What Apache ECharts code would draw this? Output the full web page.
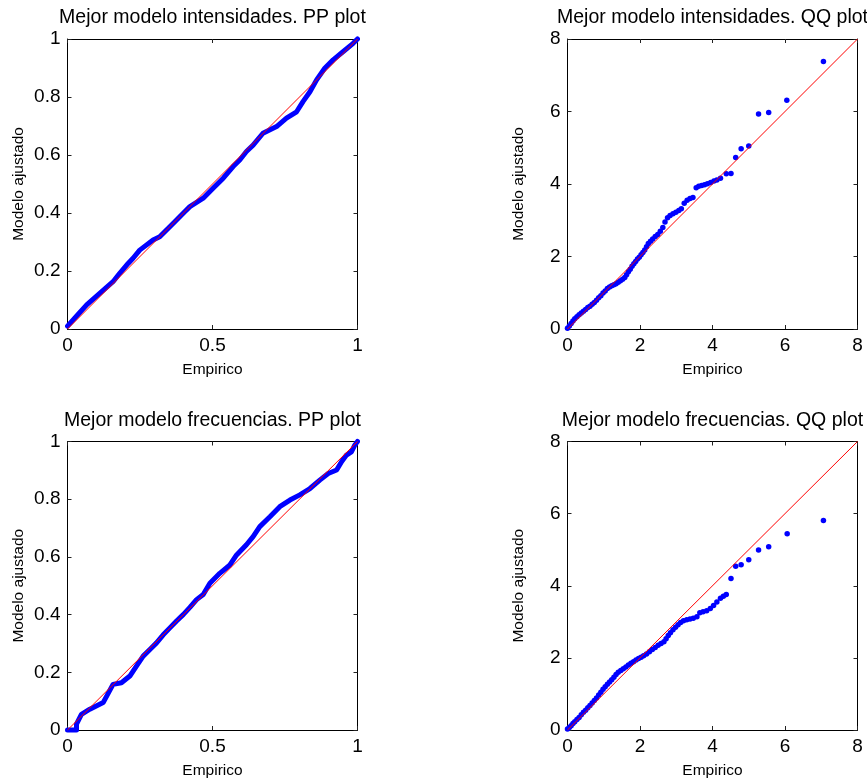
<!DOCTYPE html>
<html>
<head>
<meta charset="utf-8">
<script src="https://cdn.jsdelivr.net/npm/echarts@6/dist/echarts.min.js"></script>
<style>
html,body{margin:0;padding:0;background:#fff;}
#chart{width:867px;height:780px;}
</style>
</head>
<body>
<div id="chart"></div>
<script>
// ---------- Data ----------
const titles = [
  'Mejor modelo intensidades. PP plot',
  'Mejor modelo intensidades. QQ plot',
  'Mejor modelo frecuencias. PP plot',
  'Mejor modelo frecuencias. QQ plot'
];
const xAxisName = 'Empirico';
const yAxisName = 'Modelo ajustado';

const ppTicksX = [0, 0.5, 1];
const ppTicksY = [0, 0.2, 0.4, 0.6, 0.8, 1];
const qqTicks = [0, 2, 4, 6, 8];

// Intensidades PP plot
const ppIntX = [0,0.03,0.066,0.111,0.157,0.18,0.209,0.226,0.249,0.295,0.318,0.364,0.405,0.422,0.468,0.502,0.537,0.571,0.594,0.617,0.64,0.674,0.721,0.755,0.79,0.812,0.836,0.859,0.887,0.916,0.95,0.985,1];
const ppIntY = [0.01,0.043,0.083,0.123,0.163,0.192,0.226,0.244,0.272,0.307,0.318,0.364,0.405,0.422,0.451,0.485,0.52,0.56,0.583,0.612,0.634,0.675,0.698,0.727,0.749,0.784,0.818,0.859,0.899,0.928,0.956,0.985,1];

// Intensidades QQ plot
const qqIntX = [0,0.05,0.1,0.15,0.2,0.26,0.32,0.38,0.44,0.5,0.56,0.62,0.68,0.74,0.8,0.86,0.92,0.98,1.04,1.1,1.16,1.22,1.28,1.34,1.4,1.46,1.52,1.58,1.63,1.68,1.73,1.78,1.83,1.88,1.93,1.98,2.03,2.08,2.13,2.18,2.23,2.29,2.35,2.42,2.49,2.56,2.63,2.69,2.76,2.83,2.91,2.99,3.07,3.14,3.22,3.3,3.38,3.46,3.55,3.62,3.7,3.78,3.86,3.95,4.04,4.12,4.22,4.38,4.51,4.64,4.79,5.0,5.27,5.55,6.05,7.06];
const qqIntY = [0.02,0.08,0.15,0.22,0.28,0.34,0.39,0.44,0.49,0.54,0.59,0.63,0.68,0.73,0.79,0.86,0.92,0.99,1.05,1.12,1.16,1.19,1.22,1.25,1.29,1.33,1.37,1.42,1.5,1.58,1.65,1.73,1.8,1.86,1.93,1.98,2.05,2.11,2.18,2.27,2.36,2.42,2.48,2.55,2.61,2.7,2.8,2.95,3.07,3.13,3.18,3.22,3.27,3.32,3.47,3.55,3.6,3.63,3.9,3.94,3.96,3.98,4.01,4.04,4.08,4.11,4.16,4.28,4.29,4.73,4.97,5.05,5.93,5.97,6.31,7.38];

// Frecuencias PP plot
const ppFreqX = [0,0.031,0.031,0.048,0.077,0.123,0.157,0.186,0.215,0.24,0.261,0.285,0.307,0.33,0.353,0.376,0.399,0.422,0.445,0.468,0.491,0.525,0.56,0.583,0.617,0.64,0.663,0.698,0.732,0.767,0.801,0.836,0.87,0.899,0.928,0.945,0.962,0.979,0.991,1];
const ppFreqY = [0,0,0.02,0.054,0.072,0.095,0.158,0.164,0.187,0.225,0.256,0.28,0.302,0.33,0.354,0.378,0.4,0.425,0.452,0.47,0.509,0.543,0.572,0.607,0.642,0.67,0.705,0.739,0.774,0.797,0.815,0.837,0.866,0.889,0.901,0.93,0.953,0.964,0.988,1];

// Frecuencias QQ plot
const qqFreqX = [0,0.05,0.1,0.15,0.2,0.26,0.32,0.38,0.44,0.5,0.56,0.62,0.68,0.74,0.8,0.86,0.92,0.98,1.04,1.1,1.16,1.22,1.28,1.34,1.4,1.47,1.54,1.61,1.68,1.75,1.82,1.89,1.96,2.03,2.1,2.18,2.26,2.34,2.42,2.5,2.58,2.66,2.72,2.78,2.84,2.91,2.98,3.05,3.12,3.2,3.29,3.38,3.47,3.57,3.65,3.74,3.84,3.94,4.03,4.12,4.22,4.3,4.38,4.51,4.64,4.79,5.0,5.27,5.55,6.06,7.06];
const qqFreqY = [0.03,0.07,0.12,0.18,0.23,0.29,0.35,0.42,0.49,0.55,0.62,0.68,0.75,0.82,0.89,0.97,1.05,1.13,1.2,1.27,1.33,1.39,1.46,1.54,1.6,1.65,1.7,1.75,1.8,1.85,1.89,1.94,1.98,2.02,2.06,2.11,2.17,2.23,2.29,2.35,2.4,2.45,2.53,2.62,2.7,2.78,2.85,2.92,2.98,3.03,3.06,3.08,3.1,3.14,3.25,3.28,3.31,3.37,3.45,3.55,3.65,3.71,3.76,4.2,4.54,4.58,4.72,4.99,5.08,5.44,5.81];

// Reference (identity) lines
const refPP = [0, 1];
const refQQ = [0, 8];

// ---------- Build chart ----------
const zip = (a, b) => a.map((v, i) => [v, b[i]]);
const FONT = 'Liberation Sans, Arial, Helvetica, sans-serif';

const panels = [
  {grid: {left: 67.5, top: 39, width: 290, height: 290}, xt: ppTicksX, yt: ppTicksY, data: zip(ppIntX, ppIntY), ref: refPP, kind: 'pp'},
  {grid: {left: 567.5, top: 39, width: 290, height: 290}, xt: qqTicks, yt: qqTicks, data: zip(qqIntX, qqIntY), ref: refQQ, kind: 'qq'},
  {grid: {left: 67.5, top: 441.5, width: 290, height: 289}, xt: ppTicksX, yt: ppTicksY, data: zip(ppFreqX, ppFreqY), ref: refPP, kind: 'pp'},
  {grid: {left: 567.5, top: 441.5, width: 290, height: 289}, xt: qqTicks, yt: qqTicks, data: zip(qqFreqX, qqFreqY), ref: refQQ, kind: 'qq'}
];

const grid = [], xAxis = [], yAxis = [], series = [], title = [];
const lineCol = '#000';

panels.forEach((p, i) => {
  grid.push(Object.assign({containLabel: false}, p.grid));
  const xmin = p.xt[0], xmax = p.xt[p.xt.length - 1];
  const ymin = p.yt[0], ymax = p.yt[p.yt.length - 1];
  const xint = p.xt[1] - p.xt[0], yint = p.yt[1] - p.yt[0];
  const baseAxis = {
    type: 'value', gridIndex: i,
    axisLine: {show: true, onZero: false, lineStyle: {color: lineCol, width: 1}},
    axisTick: {show: true, inside: true, length: 4, lineStyle: {color: '#222'}},
    splitLine: {show: false}
  };
  xAxis.push(Object.assign({}, baseAxis, {
    position: 'bottom', min: xmin, max: xmax, interval: xint,
    axisLabel: {show: true, color: '#000', fontSize: 19, fontFamily: FONT, margin: 7},
    name: xAxisName, nameLocation: 'middle', nameGap: 33,
    nameTextStyle: {color: '#000', fontSize: 15.5, fontFamily: FONT}
  }));
  xAxis.push(Object.assign({}, baseAxis, {
    position: 'top', min: xmin, max: xmax, interval: xint,
    axisLabel: {show: false}
  }));
  yAxis.push(Object.assign({}, baseAxis, {
    position: 'left', min: ymin, max: ymax, interval: yint,
    axisLabel: {show: true, color: '#000', fontSize: 19, fontFamily: FONT, margin: 7},
    name: yAxisName, nameLocation: 'middle', nameGap: 41, nameRotate: 90,
    nameTextStyle: {color: '#000', fontSize: 15.5, fontFamily: FONT}
  }));
  yAxis.push(Object.assign({}, baseAxis, {
    position: 'right', min: ymin, max: ymax, interval: yint,
    axisLabel: {show: false}
  }));

  if (p.kind === 'pp') {
    series.push({
      type: 'line', xAxisIndex: 2 * i, yAxisIndex: 2 * i, data: p.data,
      symbol: 'none', clip: false, animation: false,
      lineStyle: {color: '#0000ff', width: 5, cap: 'round', join: 'round'}
    });
  } else {
    series.push({
      type: 'scatter', xAxisIndex: 2 * i, yAxisIndex: 2 * i, data: p.data,
      symbol: 'circle', symbolSize: 5.5, clip: false, animation: false,
      itemStyle: {color: '#0000ff', opacity: 1}
    });
  }
  series.push({
    type: 'line', xAxisIndex: 2 * i, yAxisIndex: 2 * i,
    data: [[p.ref[0], p.ref[0]], [p.ref[1], p.ref[1]]],
    symbol: 'none', animation: false,
    lineStyle: {color: '#ff0000', width: 1}
  });

  title.push({
    text: titles[i], padding: 0,
    left: p.grid.left + p.grid.width / 2,
    top: p.grid.top - 21,
    textAlign: 'center', textVerticalAlign: 'middle',
    textStyle: {color: '#000', fontSize: 19.5, fontWeight: 'normal', fontFamily: FONT}
  });
});

const chart = echarts.init(document.getElementById('chart'), null, {renderer: 'canvas'});
chart.setOption({
  backgroundColor: '#fff',
  animation: false,
  title, grid, xAxis, yAxis, series
});
</script>
</body>
</html>
